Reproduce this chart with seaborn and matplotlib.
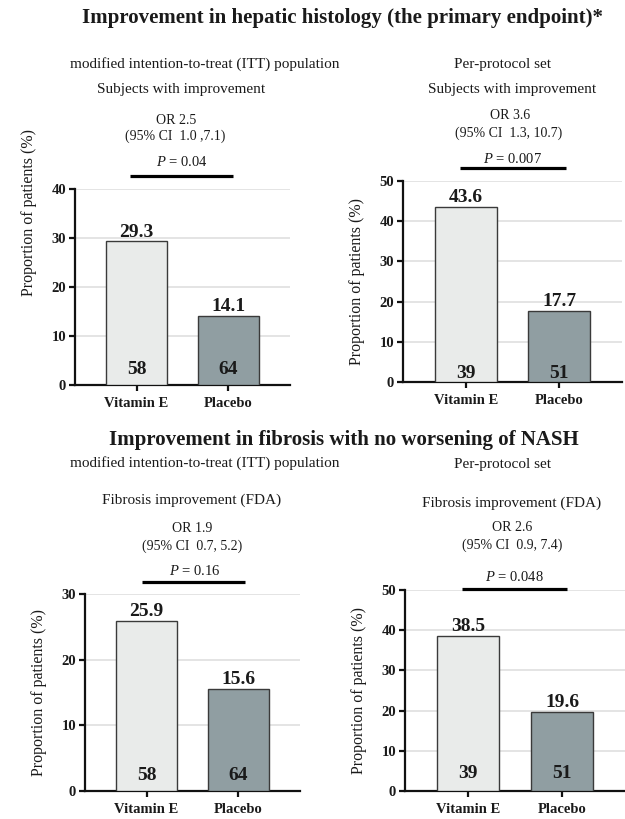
import matplotlib
matplotlib.use("Agg")
import matplotlib.pyplot as plt
from matplotlib.lines import Line2D
import seaborn as sns
import pandas as pd

# ---- data -------------------------------------------------------------
groups = ["Vitamin E", "Placebo"]

itt_histology = [29.3, 14.1]
pp_histology = [43.6, 17.7]
itt_fibrosis = [25.9, 15.6]
pp_fibrosis = [38.5, 19.6]

itt_n = [58, 64]
pp_n = [39, 51]

or_labels = ["OR 2.5", "OR 3.6", "OR 1.9", "OR 2.6"]
ci_labels = ["(95% CI  1.0 ,7.1)", "(95% CI  1.3, 10.7)",
             "(95% CI  0.7, 5.2)", "(95% CI  0.9, 7.4)"]
p_labels = ["0.04", "0.007", "0.16", "0.048"]
y_max = [40, 50, 30, 50]

# ---- style -------------------------------------------------------------
sns.set_style("ticks")
plt.rcParams["font.family"] = ["Liberation Serif", "DejaVu Serif"]
plt.rcParams["mathtext.fontset"] = "custom"
plt.rcParams["mathtext.rm"] = "Liberation Serif"
plt.rcParams["mathtext.it"] = "Liberation Serif:italic"

W, H = 625, 819
fig = plt.figure(figsize=(W / 100, H / 100), dpi=100)

bar_colors = ["#e9ebea", "#8d9fa5"]
TXT = "#1a1a1a"


def box(left, right, top, bottom):
    return [left / W, 1 - bottom / H, (right - left) / W, (bottom - top) / H]


def ftext(x, y, s, size, weight="normal"):
    fig.text(x / W, 1 - y / H, s, ha="center", va="baseline",
             fontsize=size, fontweight=weight, color=TXT)


def fline(x0, x1, y):
    fig.add_artist(Line2D([x0 / W, x1 / W], [1 - y / H, 1 - y / H],
                          transform=fig.transFigure, color="black", lw=2.3,
                          solid_capstyle="butt"))


panels = [
    dict(vals=itt_histology, n=itt_n, box=box(75, 290, 189, 385), n_off=8,
         ylab_y=0.88, txt=[(176, 124), (175, 140), (182, 166)], line=(130, 233, 176)),
    dict(vals=pp_histology, n=pp_n, box=box(403, 622, 181, 382), n_off=3,
         ylab_y=0.5, txt=[(510, 119), (509, 137), (513, 163)], line=(460, 566, 168)),
    dict(vals=itt_fibrosis, n=itt_n, box=box(85, 300, 594, 791), n_off=8,
         ylab_y=0.5, txt=[(192, 532), (192, 550), (195, 575)], line=(142, 245, 582)),
    dict(vals=pp_fibrosis, n=pp_n, box=box(405, 625, 590, 791), n_off=9,
         ylab_y=0.5, txt=[(512, 531), (512, 549), (514, 581)], line=(462, 567, 589)),
]

for k, p in enumerate(panels):
    ax = fig.add_axes(p["box"])
    df = pd.DataFrame({"group": groups, "pct": p["vals"]})
    sns.barplot(data=df, x="group", y="pct", hue="group", palette=bar_colors,
                width=0.66, edgecolor="#3a3a3a", linewidth=1.0, legend=False,
                ax=ax, zorder=3)
    ax.set_xlim(-0.67, 1.67)
    ax.set_ylim(0, y_max[k])
    ax.set_yticks(range(0, y_max[k] + 1, 10))
    ax.set_axisbelow(True)
    ax.yaxis.grid(True, color="#e4e4e4", lw=1.4, zorder=0)
    ax.xaxis.grid(False)
    sns.despine(ax=ax)
    for s in ("left", "bottom"):
        ax.spines[s].set_linewidth(1.6)
        ax.spines[s].set_color("#111111")
    ax.tick_params(axis="both", length=4, width=1.6, color="#111111",
                   labelsize=10.5, labelcolor=TXT)
    ax.tick_params(axis="y", pad=2.5)
    ax.tick_params(axis="x", pad=4.5)
    for lab in ax.get_xticklabels() + ax.get_yticklabels():
        lab.set_fontweight("bold")
    ax.set_xlabel("")
    ax.set_ylabel("Proportion of patients (%)", fontsize=11.5, color=TXT)
    axw = p["box"][2] * W
    ax.yaxis.set_label_coords(-38 / axw, p["ylab_y"])

    for i, (v, n) in enumerate(zip(p["vals"], p["n"])):
        ax.annotate(f"{v}", xy=(i, v), xytext=(0, 3.5), textcoords="offset points",
                    ha="center", va="baseline", fontsize=14, fontweight="bold",
                    color=TXT, annotation_clip=False)
        ax.annotate(f"{n}", xy=(i, 0), xytext=(0, p["n_off"]), textcoords="offset points",
                    ha="center", va="baseline", fontsize=14, fontweight="bold",
                    color=TXT, zorder=5)

    (ox, oy), (cx, cy), (px, py) = p["txt"]
    ftext(ox, oy, or_labels[k], 10)
    ftext(cx, cy, ci_labels[k], 10)
    ftext(px, py, r"$P$ = " + p_labels[k], 10.5)
    fline(*p["line"])

# ---- headings ----------------------------------------------------------
ftext(343, 23, "Improvement in hepatic histology (the primary endpoint)*", 15, "bold")
ftext(205, 68, "modified intention-to-treat (ITT) population", 11)
ftext(181, 93, "Subjects with improvement", 11)
ftext(502, 68, "Per-protocol set", 11)
ftext(512, 93, "Subjects with improvement", 11)

ftext(344, 445, "Improvement in fibrosis with no worsening of NASH", 15, "bold")
ftext(205, 467, "modified intention-to-treat (ITT) population", 11)
ftext(502, 468, "Per-protocol set", 11)
ftext(192, 504, "Fibrosis improvement (FDA)", 11)
ftext(512, 507, "Fibrosis improvement (FDA)", 11)

fig.savefig("out.png", dpi=100)
